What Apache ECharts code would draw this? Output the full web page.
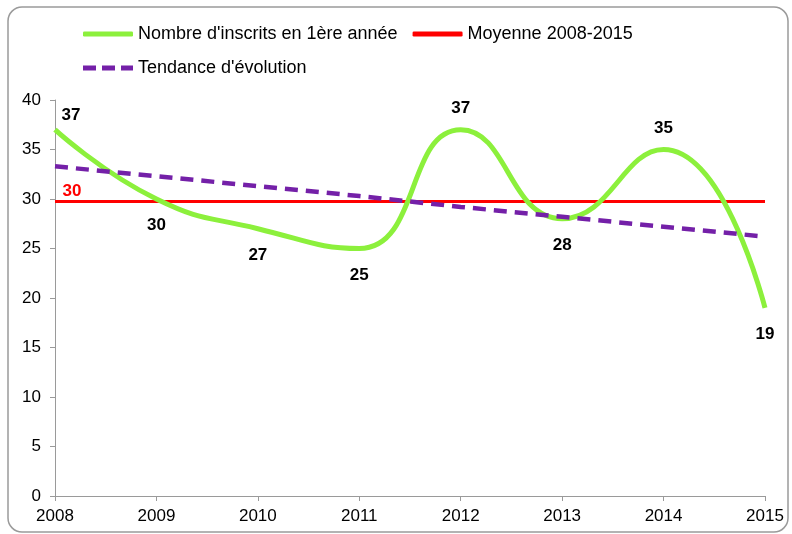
<!DOCTYPE html>
<html>
<head>
<meta charset="utf-8">
<script src="https://cdn.jsdelivr.net/npm/echarts@6/dist/echarts.min.js"></script>
<style>
  html, body { margin: 0; padding: 0; background: #fff; }
  #chart { width: 792px; height: 534px; }
</style>
</head>
<body>
<div id="chart"></div>
<script>
// values
const years = ['2008', '2009', '2010', '2011', '2012', '2013', '2014', '2015'];
const inscrits = [37, 30, 27, 25, 37, 28, 35, 19];
const moyenne = [29.75, 29.75, 29.75, 29.75, 29.75, 29.75, 29.75, 29.75];
const tendance = [33.3, 32.3, 31.3, 30.3, 29.2, 28.2, 27.2, 26.2];
const labelSide = ['top', 'bottom', 'bottom', 'bottom', 'top', 'bottom', 'top', 'bottom'];

const font = 'Liberation Sans, Arial, sans-serif';
const GREEN = '#8CF03C', RED = '#FF0000', PURPLE = '#7420A8';

const chart = echarts.init(document.getElementById('chart'), null, { renderer: 'canvas' });

const legendText = { fontSize: 18, color: '#000', fontFamily: font };
const dashIcon = 'path://M0,0h13v5h-13z M19,0h13v5h-13z M38,0h12v5h-12z';

chart.setOption({
  animation: false,
  backgroundColor: '#fff',
  textStyle: { fontFamily: font },
  graphic: [{
    type: 'rect',
    shape: { x: 8, y: 7, width: 780, height: 525, r: 14 },
    style: { fill: 'none', stroke: '#9a9a9a', lineWidth: 1.5 },
    silent: true
  }],
  legend: [
    {
      left: 83, top: 25, padding: 0,
      itemWidth: 50, itemHeight: 5, itemGap: 15,
      data: [
        { name: 'Nombre d\'inscrits en 1ère année', icon: 'roundRect' },
        { name: 'Moyenne 2008-2015', icon: 'roundRect' }
      ],
      textStyle: legendText
    },
    {
      left: 83, top: 59, padding: 0,
      itemWidth: 50, itemHeight: 5,
      data: [{ name: 'Tendance d\'évolution', icon: dashIcon }],
      textStyle: legendText
    }
  ],
  grid: { left: 55, right: 27, top: 100, bottom: 38, containLabel: false },
  xAxis: {
    type: 'category',
    data: years,
    boundaryGap: false,
    axisLine: { lineStyle: { color: '#9a9a9a', width: 1 } },
    axisTick: { show: true, length: 5, lineStyle: { color: '#9a9a9a' } },
    axisLabel: { color: '#000', fontSize: 17, margin: 12, fontFamily: font },
    splitLine: { show: false }
  },
  yAxis: {
    type: 'value',
    min: 0, max: 40, interval: 5,
    axisLine: { show: true, lineStyle: { color: '#9a9a9a', width: 1 } },
    axisTick: { show: true, length: 5, lineStyle: { color: '#9a9a9a' } },
    axisLabel: { color: '#000', fontSize: 17, margin: 14, fontFamily: font },
    splitLine: { show: false }
  },
  series: [
    {
      name: 'Nombre d\'inscrits en 1ère année',
      type: 'line',
      data: inscrits.map((v, i) => ({
        value: v,
        label: {
          position: labelSide[i],
          offset: i === 0 ? [16, -1] : (labelSide[i] === 'top' ? [0, -8] : [0, 13])
        }
      })),
      smooth: 0.5,
      symbol: 'circle',
      symbolSize: 0,
      z: 3,
      lineStyle: { color: GREEN, width: 5 },
      itemStyle: { color: GREEN },
      label: {
        show: true,
        fontWeight: 'bold', fontSize: 17, color: '#000', fontFamily: font
      }
    },
    {
      name: 'Moyenne 2008-2015',
      type: 'line',
      data: moyenne.map((v, i) => i === 0
        ? { value: v, label: { show: true, position: 'top', offset: [17, 3] } }
        : v),
      symbol: 'circle',
      symbolSize: 0,
      z: 2,
      lineStyle: { color: RED, width: 3 },
      itemStyle: { color: RED },
      label: {
        show: false,
        formatter: p => Math.round(p.value),
        fontWeight: 'bold', fontSize: 17, color: RED, fontFamily: font
      }
    },
    {
      name: 'Tendance d\'évolution',
      type: 'line',
      data: tendance,
      symbol: 'none',
      z: 4,
      lineStyle: { color: PURPLE, width: 4.5, type: [13, 8] },
      itemStyle: { color: PURPLE }
    }
  ]
});
</script>
</body>
</html>
